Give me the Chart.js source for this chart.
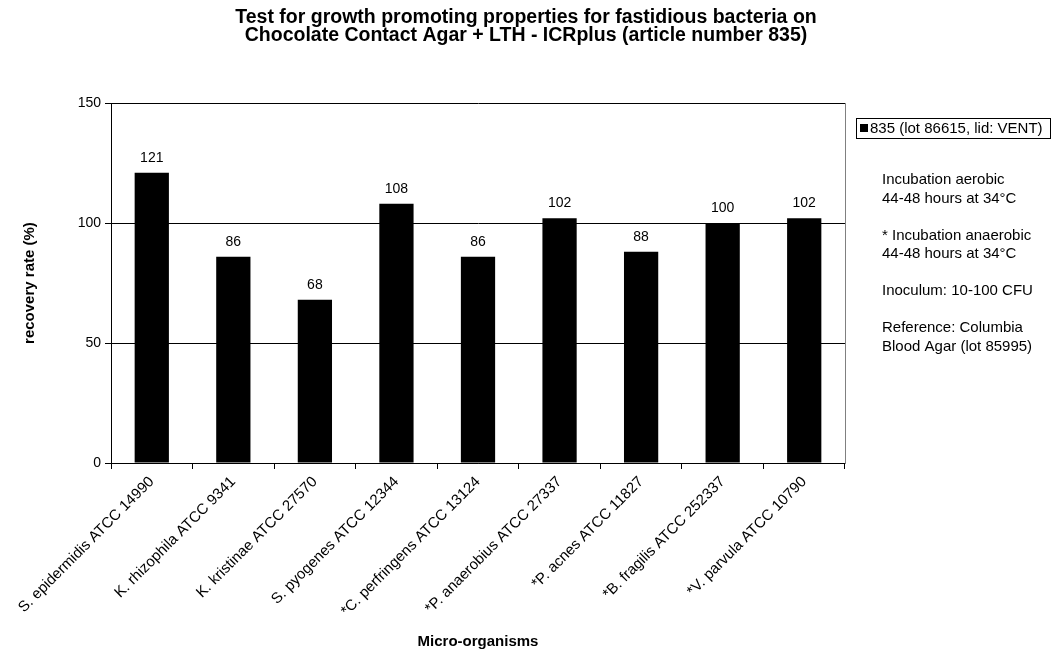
<!DOCTYPE html>
<html>
<head>
<meta charset="utf-8">
<title>Chocolate Contact Agar + LTH - ICRplus</title>
<script src="https://cdn.jsdelivr.net/npm/chart.js@4/dist/chart.umd.min.js"></script>
<style>
  html, body { margin: 0; padding: 0; background: #fff; }
  #wrap { width: 1052px; height: 649px; position: relative; }
</style>
</head>
<body>
<div id="wrap"><canvas id="chart" width="1052" height="649"></canvas></div>
<script>
const categories = [
  "S. epidermidis ATCC 14990",
  "K. rhizophila ATCC 9341",
  "K. kristinae ATCC 27570",
  "S. pyogenes ATCC 12344",
  "*C. perfringens ATCC 13124",
  "*P. anaerobius ATCC 27337",
  "*P. acnes ATCC 11827",
  "*B. fragilis ATCC 252337",
  "*V. parvula ATCC 10790"
];
const recoveryRates = [121, 86, 68, 108, 86, 102, 88, 100, 102];
const seriesLabel = "835 (lot 86615, lid: VENT)";
const yTicks = [0, 50, 100, 150];
const titleLines = [
  "Test for growth promoting properties for fastidious bacteria on",
  "Chocolate Contact Agar + LTH - ICRplus (article number 835)"
];
const notes = [
  "Incubation aerobic",
  "44-48 hours at 34\u00B0C",
  "",
  "* Incubation anaerobic",
  "44-48 hours at 34\u00B0C",
  "",
  "Inoculum: 10-100 CFU",
  "",
  "Reference: Columbia",
  "Blood Agar (lot 85995)"
];

const FONT = "Arial, 'Liberation Sans', sans-serif";

// Value labels above each bar, legend box and notes at the right side
const annotations = {
  id: "annotations",
  afterDatasetsDraw(chart) {
    const ctx = chart.ctx;
    const meta = chart.getDatasetMeta(0);
    ctx.save();
    ctx.fillStyle = "#000";
    ctx.font = "14px " + FONT;
    ctx.textAlign = "center";
    ctx.textBaseline = "middle";
    meta.data.forEach((bar, i) => {
      ctx.fillText(String(chart.data.datasets[0].data[i]), bar.x, bar.y - 15);
    });
    ctx.restore();
  },
  afterDraw(chart) {
    const ctx = chart.ctx;
    const area = chart.chartArea;
    ctx.save();
    // plot area right border
    ctx.strokeStyle = "#808080";
    ctx.lineWidth = 1;
    ctx.beginPath();
    ctx.moveTo(Math.round(area.right) + 0.5, area.top);
    ctx.lineTo(Math.round(area.right) + 0.5, area.bottom + 1);
    ctx.stroke();

    // legend box
    const ds = chart.data.datasets[0];
    const lx = 856, ly = 118, lw = 194, lh = 20;
    ctx.strokeStyle = "#000";
    ctx.strokeRect(lx + 0.5, ly + 0.5, lw, lh);
    ctx.fillStyle = ds.backgroundColor;
    ctx.fillRect(lx + 4, ly + 6, 8, 8);
    ctx.fillStyle = "#000";
    ctx.font = "15px " + FONT;
    ctx.textAlign = "left";
    ctx.textBaseline = "middle";
    ctx.fillText(ds.label, lx + 14, ly + lh / 2 + 1);

    // notes
    ctx.font = "15px " + FONT;
    const nx = 882, ny = 180, step = 18.5;
    notes.forEach((line, i) => {
      if (line) ctx.fillText(line, nx, ny + i * step);
    });
    ctx.restore();
  }
};

new Chart(document.getElementById("chart"), {
  type: "bar",
  data: {
    labels: categories,
    datasets: [{
      label: seriesLabel,
      data: recoveryRates,
      backgroundColor: "#000000",
      borderWidth: 0,
      categoryPercentage: 1.0,
      barPercentage: 0.42
    }]
  },
  options: {
    responsive: false,
    animation: false,
    devicePixelRatio: 1,
    layout: { padding: { left: 0, right: 0, top: 0, bottom: 0 } },
    plugins: {
      legend: { display: false },
      tooltip: { enabled: false },
      title: {
        display: true,
        text: titleLines,
        color: "#000",
        font: { family: FONT, size: 19.5, weight: "bold", lineHeight: 0.9 },
        padding: { top: 9, bottom: 59 }
      }
    },
    scales: {
      x: {
        offset: true,
        grid: {
          offset: true,
          drawOnChartArea: false,
          drawTicks: true,
          tickLength: 6,
          tickColor: "#000"
        },
        border: { color: "#000", width: 1 },
        ticks: {
          color: "#000",
          font: { family: FONT, size: 15 },
          maxRotation: 45,
          minRotation: 45,
          autoSkip: false,
          padding: 4
        },
        title: {
          display: true,
          text: "Micro-organisms",
          color: "#000",
          font: { family: FONT, size: 15, weight: "bold", lineHeight: 1 },
          padding: { top: 0, bottom: 0 }
        },
        afterFit(scale) { scale.height = 186; }
      },
      y: {
        min: 0,
        max: 150,
        afterBuildTicks(scale) { scale.ticks = yTicks.map(v => ({ value: v })); },
        grid: {
          color: "#000",
          tickColor: "#000",
          tickLength: 6,
          drawTicks: true
        },
        border: { color: "#000", width: 1 },
        ticks: {
          color: "#000",
          font: { family: FONT, size: 14 },
          padding: 4
        },
        title: {
          display: true,
          text: "recovery rate (%)",
          color: "#000",
          font: { family: FONT, size: 15, weight: "bold" },
          padding: { top: 21, bottom: 0 }
        },
        afterFit(scale) { scale.width = 111; }
      },
      side: {
        type: "linear",
        position: "right",
        display: true,
        grid: { display: false, drawTicks: false },
        border: { display: false },
        ticks: { display: false },
        afterFit(scale) { scale.width = 207; }
      }
    }
  },
  plugins: [annotations]
});
</script>
</body>
</html>
